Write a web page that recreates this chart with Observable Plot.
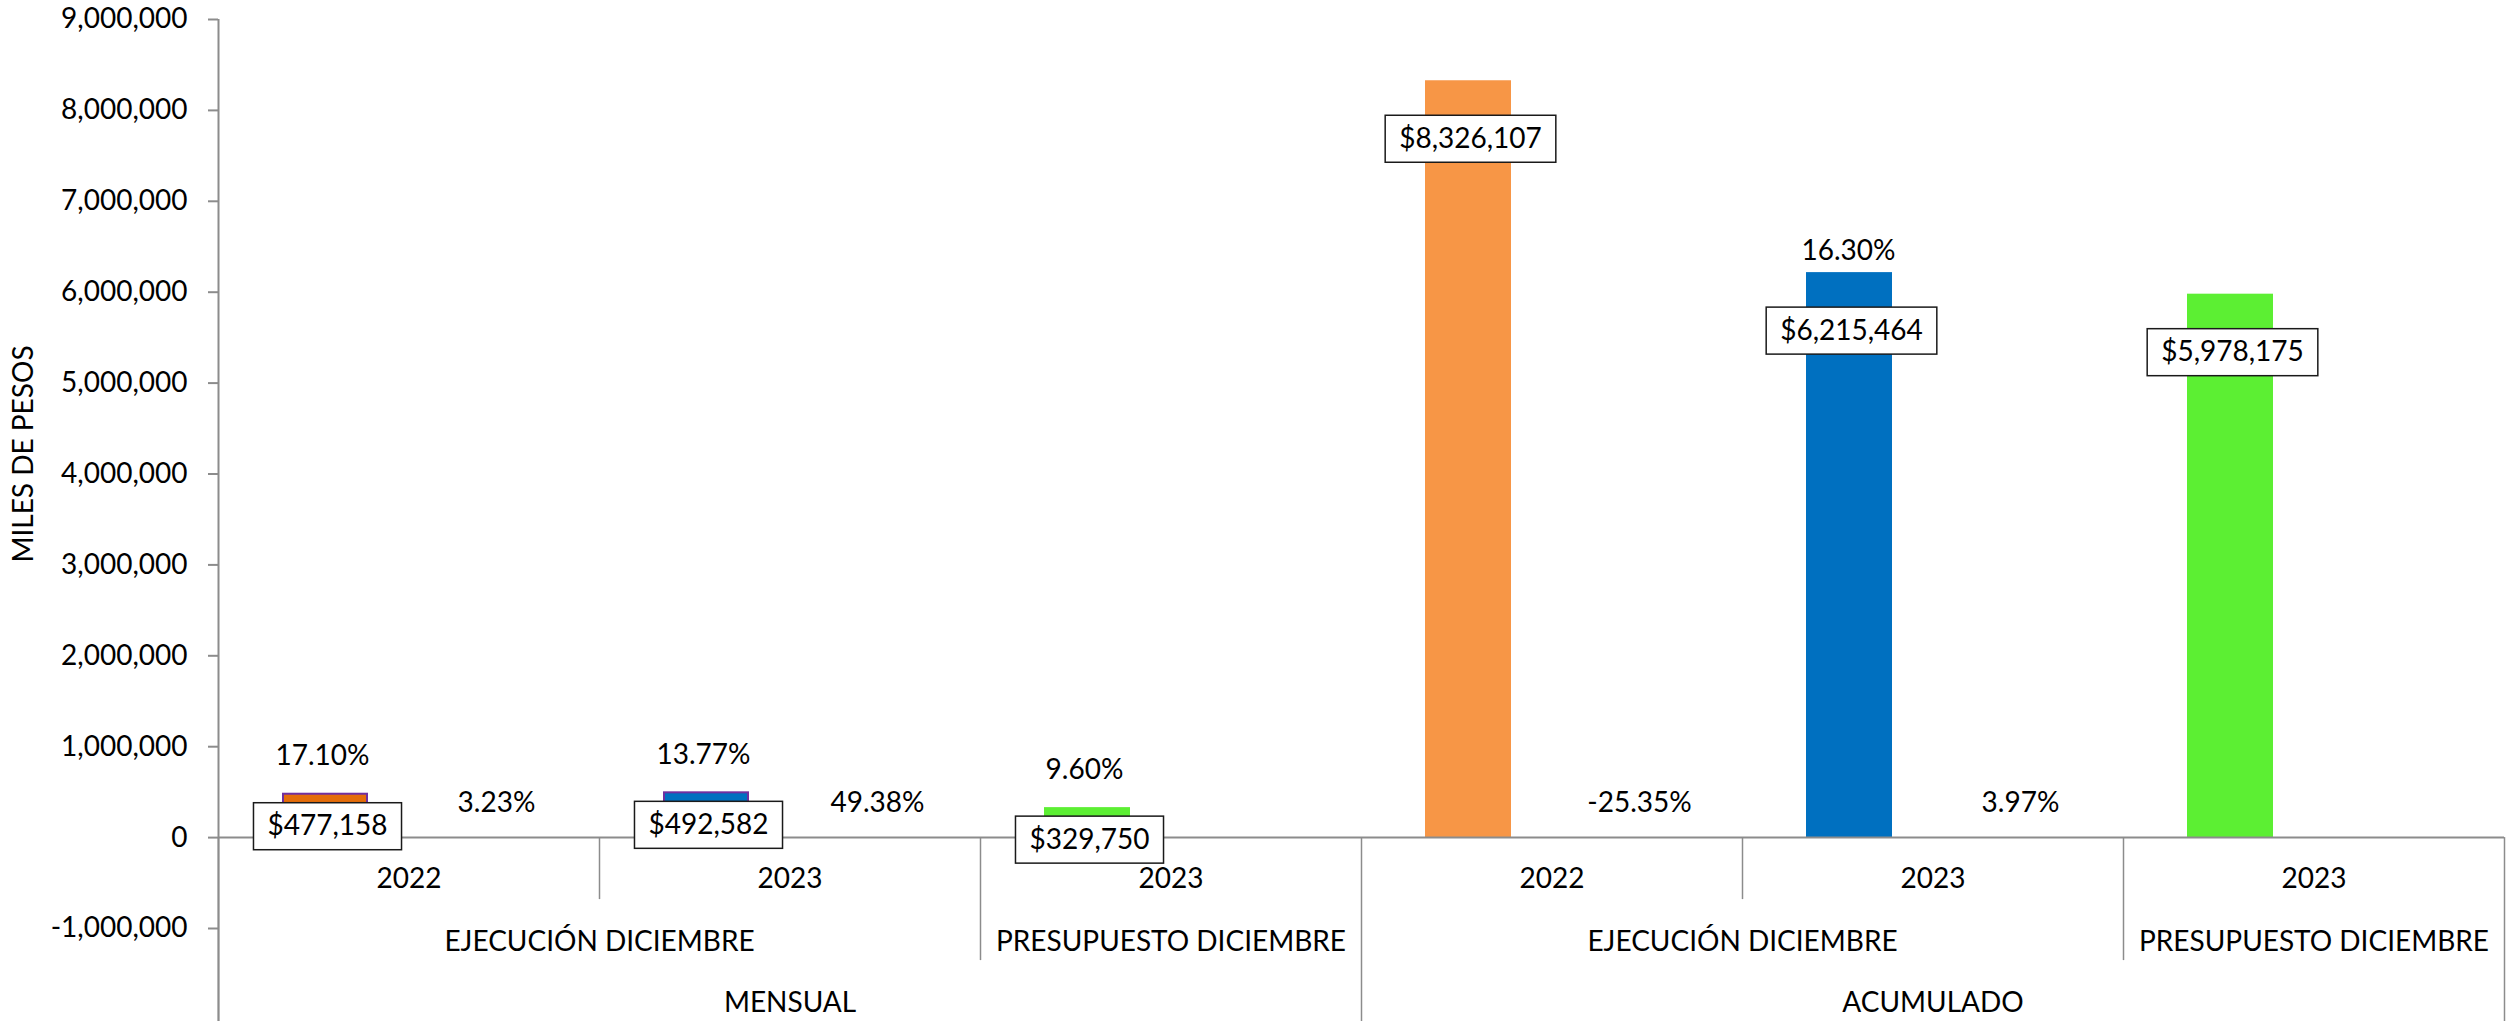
<!DOCTYPE html>
<html>
<head>
<meta charset="utf-8">
<script src="https://cdn.jsdelivr.net/npm/d3@7"></script>
<script src="https://cdn.jsdelivr.net/npm/@observablehq/plot@0.6"></script>
<style>
  html, body { margin: 0; padding: 0; background: #ffffff; }
  svg { display: block; }
</style>
</head>
<body>
<script>
// ---- Data ----
const years      = ["2022", "2023", "2023", "2022", "2023", "2023"];
const conceptos  = ["EJECUCIÓN DICIEMBRE", "EJECUCIÓN DICIEMBRE", "PRESUPUESTO DICIEMBRE",
                    "EJECUCIÓN DICIEMBRE", "EJECUCIÓN DICIEMBRE", "PRESUPUESTO DICIEMBRE"];
const periodos   = ["MENSUAL", "MENSUAL", "MENSUAL", "ACUMULADO", "ACUMULADO", "ACUMULADO"];
const valores    = [477158, 492582, 329750, 8326107, 6215464, 5978175];
const participacion = [17.10, 13.77, 9.60, null, 16.30, null];   // % shown above bars
const variacion     = [3.23, 49.38, null, -25.35, 3.97, null];   // % shown between bars
const yTicks = [-1000000, 0, 1000000, 2000000, 3000000, 4000000, 5000000, 6000000, 7000000, 8000000, 9000000];
const yLabel = "MILES DE PESOS";

// ---- Styles ----
const palette  = ["#E46C0A", "#0070C0", "#5CEF33", "#F79646", "#0070C0", "#5CEF33"];
const outlined = [true, true, false, false, false, false];
const gray = "#8C8C8C";
const W = 2514, H = 1021;
const mL = 218, mR = 10, mT = 19, mB = 93;
const FONT = "Lato, 'Open Sans', sans-serif";

// ---- Derived tables ----
const rows = valores.map((v, i) => ({
  i, key: String(i), year: years[i], concepto: conceptos[i], periodo: periodos[i],
  valor: v, part: participacion[i], vari: variacion[i]
}));
const n = rows.length;
const yMin = yTicks[0], yMax = yTicks[yTicks.length - 1];
const zeroPx = mT + (yMax / (yMax - yMin)) * (H - mT - mB);   // pixel row of the zero baseline

// boundaries between categories and their hierarchy level
const bounds = d3.range(n + 1).map(b => {
  let level;
  if (b === 0 || b === n || periodos[b - 1] !== periodos[b]) level = 3;
  else if (conceptos[b - 1] !== conceptos[b]) level = 2;
  else level = 1;
  return {b, level};
});

function runs(keyFn, labelFn) {
  const out = [];
  let start = 0;
  for (let i = 1; i <= n; i++) {
    if (i === n || keyFn(i) !== keyFn(start)) {
      out.push({mid: (start + i) / 2, label: labelFn(start)});
      start = i;
    }
  }
  return out;
}
const conceptoRuns = runs(i => periodos[i] + "|" + conceptos[i], i => conceptos[i]);
const periodoRuns  = runs(i => periodos[i], i => periodos[i]);

const fmtNum = d => d3.format(",")(d).replace("\u2212", "-");
const fmtPct = p => p.toFixed(2) + "%";
const isSmall = d => d.valor < 1000000;

const chart = Plot.plot({
  width: W, height: H,
  marginLeft: mL, marginRight: mR, marginTop: mT, marginBottom: mB,
  x: {type: "linear", domain: [0, n], axis: null},
  y: {domain: [yMin, yMax], axis: null},
  color: {type: "ordinal", domain: rows.map(d => d.key), range: palette},
  style: {fontFamily: FONT, fontSize: "28px", background: "#ffffff", color: "#000"},
  marks: [
    // y axis line (runs down through the category label area)
    Plot.ruleX([0], {x: d => d, y1: yMax, y2: yMin, insetBottom: -mB, stroke: gray, strokeWidth: 2}),
    // y ticks
    Plot.ruleY(yTicks, {y: d => d, x1: 0, x2: 0, insetLeft: -10, stroke: gray, strokeWidth: 2}),
    Plot.text(yTicks, {y: d => d, x: 0, text: fmtNum, textAnchor: "end", dx: -31, fill: "#000"}),
    // y title
    Plot.text([yLabel], {frameAnchor: "left", text: d => d, rotate: -90, textAnchor: "middle", dx: -194, dy: -20, fill: "#000"}),
    // bars
    Plot.rectY(rows, {x1: d => d.i, x2: d => d.i + 1, y: "valor", fill: "key", insetLeft: 64, insetRight: 231}),
    Plot.rectY(rows.filter(d => outlined[d.i]), {x1: d => d.i, x2: d => d.i + 1, y: "valor", fill: "key",
      stroke: "#7030A0", strokeWidth: 2, insetLeft: 65, insetRight: 232}),
    // baseline
    Plot.ruleY([0], {y: d => d, x1: 0, x2: n, stroke: gray, strokeWidth: 2}),
    // category separators
    Plot.ruleX(bounds.filter(d => d.level === 1), {x: "b", y1: 0, y2: 0, insetBottom: -62, stroke: gray, strokeWidth: 1.5}),
    Plot.ruleX(bounds.filter(d => d.level === 2), {x: "b", y1: 0, y2: 0, insetBottom: -123, stroke: gray, strokeWidth: 1.5}),
    Plot.ruleX(bounds.filter(d => d.level === 3), {x: "b", y1: 0, y2: 0, insetBottom: -(H - zeroPx), stroke: gray, strokeWidth: 1.5}),
    // category labels
    Plot.text(rows, {x: d => d.i + 0.5, y: 0, text: "year", dy: 41, fill: "#000"}),
    Plot.text(conceptoRuns, {x: "mid", y: 0, text: "label", dy: 104, fill: "#000"}),
    Plot.text(periodoRuns, {x: "mid", y: 0, text: "label", dy: 165, fill: "#000"}),
    // share labels above bars
    Plot.text(rows.filter(d => d.part != null && isSmall(d)), {x: d => d.i, y: "valor", text: d => fmtPct(d.part), dx: 104, dy: -38, fill: "#000"}),
    Plot.text(rows.filter(d => d.part != null && !isSmall(d)), {x: d => d.i, y: "valor", text: d => fmtPct(d.part), dx: 106, dy: -22, fill: "#000"}),
    // variation labels
    Plot.text(rows.filter(d => d.vari != null), {x: d => d.i, y: 0, text: d => fmtPct(d.vari), dx: 278, dy: -35, fill: "#000"}),
    // value labels (boxed)
    Plot.text(rows.filter(isSmall), {x: d => d.i, y: "valor", text: d => "$" + fmtNum(d.valor), dx: 109, dy: 32, fill: "#000"}),
    Plot.text(rows.filter(d => !isSmall(d)), {x: d => d.i, y: "valor", text: d => "$" + fmtNum(d.valor), dx: 109, dy: 58, fill: "#000"})
  ]
});

document.body.appendChild(chart);

// draw label boxes behind the value labels
chart.querySelectorAll("text").forEach(t => {
  if (!t.textContent.startsWith("$")) return;
  const bb = t.getBBox();
  const r = document.createElementNS("http://www.w3.org/2000/svg", "rect");
  r.setAttribute("x", bb.x - 14);
  r.setAttribute("width", bb.width + 28);
  r.setAttribute("y", -23.5);
  r.setAttribute("height", 47);
  r.setAttribute("fill", "#ffffff");
  r.setAttribute("stroke", "#1a1a1a");
  r.setAttribute("stroke-width", 1.5);
  const tr = t.getAttribute("transform");
  if (tr) r.setAttribute("transform", tr);
  t.parentNode.insertBefore(r, t);
});
</script>
</body>
</html>
